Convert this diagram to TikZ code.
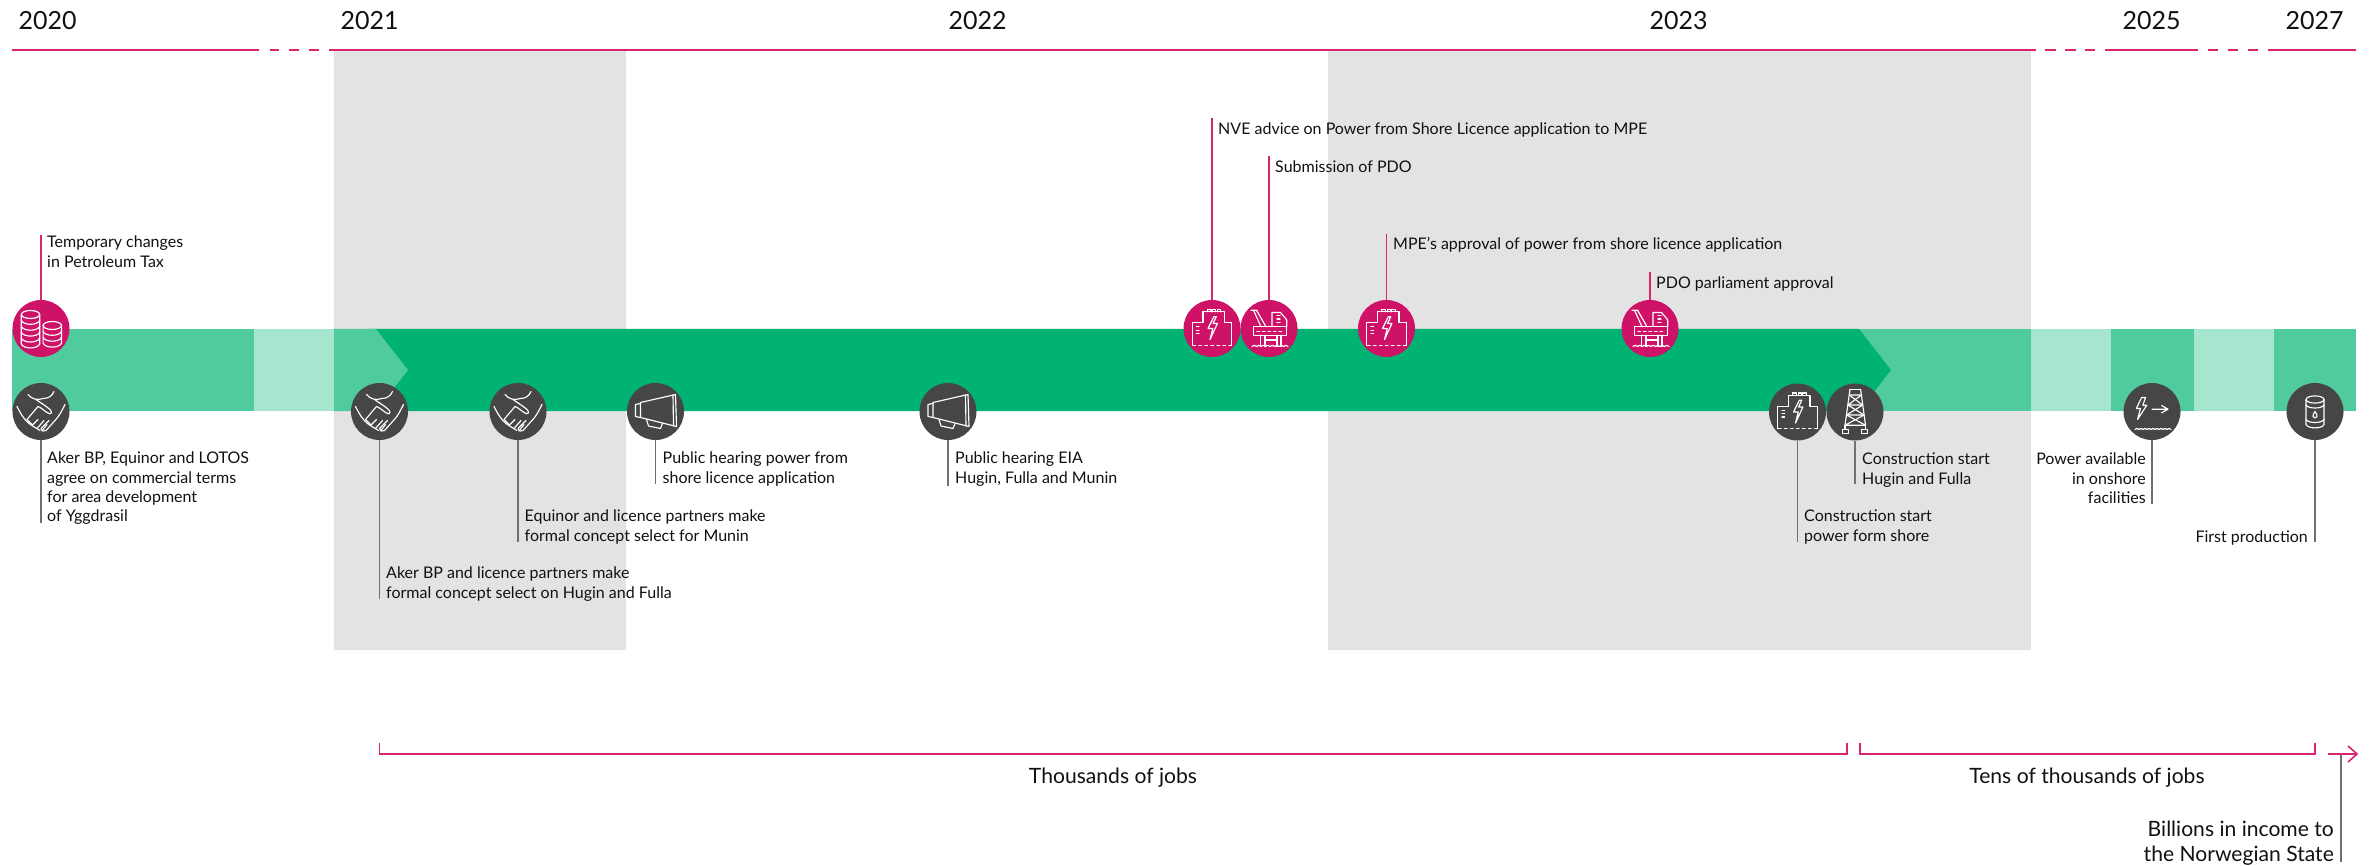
\documentclass[tikz,border=0pt]{standalone}
\usepackage{fontspec}
\setmainfont{Lato}
\definecolor{gdark}{HTML}{00B373}
\definecolor{gmid}{HTML}{50CB9E}
\definecolor{glight}{HTML}{A6E5CE}
\definecolor{bandgrey}{HTML}{E3E3E3}
\definecolor{mag}{HTML}{CE1268}
\definecolor{magline}{HTML}{D9256F}
\definecolor{dcirc}{HTML}{464646}
\definecolor{gline}{HTML}{707070}
\definecolor{ink}{HTML}{111111}
\tikzset{
  x=1pt,y=-1pt,
  magball/.style={circle,fill=mag,minimum size=57pt,inner sep=0pt,draw=none},
  darkball/.style={circle,fill=dcirc,minimum size=57pt,inner sep=0pt,draw=none},
  magleader/.style={draw=magline,line width=1.4pt},
  grayleader/.style={draw=gline,line width=1.4pt},
  magrule/.style={draw=magline,line width=2pt},
  icon/.style={draw=white,line width=1.15pt,line join=round,line cap=round,fill=none},
  evtext/.style={inner sep=0pt,anchor=north west,align=left,yshift=7pt,text=ink,
    font=\fontsize{16}{19.2}\selectfont,execute at begin node=\strut},
  evtextr/.style={evtext,anchor=north east,align=right},
  yeartext/.style={inner sep=0pt,anchor=base west,text=ink,font=\fontsize{25}{30}\selectfont},
  bigtext/.style={inner sep=0pt,text=ink,font=\fontsize{21.1}{26}\selectfont},
  bigtextr/.style={inner sep=0pt,text=ink,anchor=north east,align=right,yshift=8pt,
    font=\fontsize{21.1}{25}\selectfont,execute at begin node=\strut},
  coins/.pic={
    \foreach \cx/\top/\n in {-10.5/-14/5,11.3/-3/3}{
      \draw[icon] (\cx,\top) ellipse [x radius=9.2,y radius=4];
      \foreach \k in {1,...,\n}{
        \draw[icon] (\cx-9.2,\top+5.9*\k-5.9) -- (\cx-9.2,\top+5.9*\k)
          .. controls (\cx-7,\top+5.9*\k+5.2) and (\cx+7,\top+5.9*\k+5.2) .. (\cx+9.2,\top+5.9*\k)
          -- (\cx+9.2,\top+5.9*\k-5.9);
      }
    }
  },
  hands/.pic={
    \draw[icon] (-13,-17) .. controls (-9,-12) and (-3,-11) .. (2,-13)
      .. controls (7,-13) and (11,-15) .. (13,-20);
    \draw[icon] (-5,-12) .. controls (-1,-9) and (3,-7) .. (9,-2)
      .. controls (12,1) and (10,4) .. (6,1) .. controls (3,-1) and (0,-4) .. (-3,-5)
      -- (-14,8);
    \draw[icon] (-24,-5) .. controls (-20,3) and (-16,9) .. (-12,12)
      .. controls (-8,15) and (-4,17) .. (-1,19);
    \draw[icon] (24,-7) .. controls (21,-1) and (18,5) .. (14,9) -- (5,19) .. controls (3,20) and (1,20) .. (0,17) -- (8,9);
    \draw[icon] (-9,14) -- (-3,8) (-4,17) -- (3,9) (1,19.5) -- (6,13);
    \draw[icon] (-14,8) -- (-9,13);
  },
  megaphone/.pic={
    \draw[icon] (-15,-9) -- (20,-17) -- (21,15) -- (-15,6) -- cycle;
    \draw[icon] (17.5,-16.5) -- (18,14.5);
    \draw[icon] (-15,-8) -- (-20,-7) -- (-20,5) -- (-15,6);
    \draw[icon] (-9,8) -- (-7,14.5) -- (5,17) -- (7,12);
  },
  plantic/.pic={
    \draw[icon] (-19.6,16.7) -- (-19.6,-5.7) -- (-9,-5.7) -- (-9,-16.7) -- (12.5,-16.7) -- (12.5,-5.7) -- (19.6,-5.7) -- (19.6,16.7);
    \draw[icon] (-4.6,-16.7) -- (-4.6,-19) -- (-1,-19) -- (-1,-16.7)
      (0.9,-16.7) -- (0.9,-19) -- (3.6,-19) -- (3.6,-16.7)
      (5.4,-16.7) -- (5.4,-19) -- (8.7,-19) -- (8.7,-16.7);
    \draw[icon] (1.8,-11.7) -- (-4,0) -- (0.7,0) -- (-2,11) -- (5.4,-5) -- (1,-5) -- (4.3,-11.7) -- cycle;
    \draw[icon] (-15.5,-1.7) -- (-13,-1.7) (-15.5,1.7) -- (-13,1.7) (-15.5,5) -- (-13,5);
    \foreach \a in {-19,-13,...,17}{\draw[icon] (\a,16.7) -- (\a+2.6,16.7);}
  },
  platform/.pic={
    \draw[icon] (-18,-18.3) -- (-12,-18.3) (-15.5,-18.3) -- (-8,-1.7) (-12.5,-18.3) -- (-3,-1.7);
    \draw[icon] (-15.4,-1.7) rectangle (17.8,6.7);
    \draw[icon] (3,-1.7) -- (3,-16) -- (11.5,-16) -- (17.8,-8.5) -- (17.8,-1.7);
    \foreach \a in {-12,-6.5,-1,4.5,10}{\draw[icon] (\a,2.7) -- (\a+2.6,2.7);}
    \foreach \v in {-13,-9.5,-6}{\draw[icon] (8,\v) -- (11,\v);}
    \draw[icon] (-8.3,6.7) -- (-8.3,18) (-4,6.7) -- (-4,18) (8,6.7) -- (8,18) (12,6.7) -- (12,18);
    \draw[icon] (-4,11.5) -- (8,11.5);
    \foreach \a in {-17,-12.5,...,15}{\draw[icon] (\a,18) .. controls (\a+1.5,16.4) and (\a+3,16.4) .. (\a+4.5,18);}
  },
  pylonic/.pic={
    \draw[icon] (-5,-22.7) -- (5.6,-22.7);
    \draw[icon] (-5,-22.7) -- (-10,13.3) (5.6,-22.7) -- (10.5,13.3);
    \draw[icon] (-5.8,-17) -- (6.4,-17) -- (-7.1,-7) -- (7.7,-7) -- (-8.4,3) -- (9,3) -- (-10,13.3) -- (10.5,13.3);
    \draw[icon] (-5.8,-17) -- (7.7,-7) (-7.1,-7) -- (9,3) (-8.4,3) -- (10.5,13.3);
    \draw[icon] (-12.6,17.3) rectangle (-6.4,21.3);
    \draw[icon] (6.8,17.3) rectangle (12.8,21.3);
    \draw[icon] (-10,13.3) -- (-10,17.3) (10.5,13.3) -- (10.5,17.3);
  },
  powerout/.pic={
    \draw[icon] (-10.4,-14) -- (-15.7,-3) -- (-11.6,-3) -- (-14.5,8) -- (-5.2,-6.3) -- (-9.2,-6.3) -- (-6.4,-14) -- cycle;
    \draw[icon] (0,-2.3) -- (16,-2.3) (9.6,-6) -- (16,-2.3) -- (9.6,1.3);
    \foreach \a in {-17,-13,...,15}{\draw[icon] (\a,18) .. controls (\a+1.3,16.6) and (\a+2.7,16.6) .. (\a+4,18);}
  },
  barrelic/.pic={
    \draw[icon] (0,-12) ellipse [x radius=9,y radius=3.6];
    \draw[icon] (-9,-12) -- (-9,13) .. controls (-7,17.5) and (7,17.5) .. (9,13) -- (9,-12);
    \draw[icon] (-9,-6.5) .. controls (-7,-2.5) and (7,-2.5) .. (9,-6.5);
    \draw[icon] (-9,8) .. controls (-7,12) and (7,12) .. (9,8);
    \draw[icon] (0,0) .. controls (-1,2) and (-2.5,3) .. (-2,5) .. controls (-1.5,7) and (1.5,7) .. (2,5) .. controls (2.5,3) and (1,2) .. (0,0) -- cycle;
  },
}
\begin{document}
\begin{tikzpicture}
\useasboundingbox (0,0) rectangle (2369,866);
\fill[white] (0,0) rectangle (2369,866);
% shaded periods
\fill[bandgrey] (334,50) rectangle (626,650);
\fill[bandgrey] (1328,50) rectangle (2031,650);
% band
\fill[gmid] (12,329) rectangle (254,411);
\fill[glight] (254,329) rectangle (334,411);
\fill[gmid] (1850,329) rectangle (2031,411);
\fill[glight] (2031,329) rectangle (2111,411);
\fill[gmid] (2111,329) rectangle (2194,411);
\fill[glight] (2194,329) rectangle (2274,411);
\fill[gmid] (2274,329) rectangle (2356,411);
\fill[gdark] (370,329) -- (1859,329) -- (1891,370) -- (1859,411) -- (370,411) -- cycle;
\fill[gmid] (334,329) -- (376,329) -- (408,370) -- (376,411) -- (334,411) -- cycle;
% top rule
\draw[magrule] (12,50) -- (259,50);
\foreach \a/\b in {270/279,289/299,309/319,2045/2056,2065/2076,2085/2095,2208/2218,2228/2238,2248/2258}{\draw[magrule] (\a,50) -- (\b,50);}
\draw[magrule] (329,50) -- (2036,50);
\draw[magrule] (2105,50) -- (2198,50);
\draw[magrule] (2268,50) -- (2356,50);
% years
\node[yeartext] (y20) at (18.5,30) {2020};
\node[yeartext] (y21) at (340.5,30) {2021};
\node[yeartext] (y22) at (948.5,30) {2022};
\node[yeartext] (y23) at (1649.5,30) {2023};
\node[yeartext] (y25) at (2122.5,30) {2025};
\node[yeartext] (y27) at (2285.5,30) {2027};
% upper events
\node[magball] (c1) at (41,328.5) {};
\node[magball] (c2) at (1212,328.5) {};
\node[magball] (c3) at (1269,328.5) {};
\node[magball] (c4) at (1386.5,328.5) {};
\node[magball] (c5) at (1650,328.5) {};
\pic at (c1) {coins};
\pic at (c2) {plantic};
\pic at (c3) {platform};
\pic at (c4) {plantic};
\pic at (c5) {platform};
\coordinate (e1) at (41,235);
\coordinate (e2) at (1212,118);
\coordinate (e3) at (1269,156);
\coordinate (e4) at (1386.5,234);
\coordinate (e5) at (1650,272);
\foreach \i in {1,...,5}{\draw[magleader] (c\i.north) -- (e\i);}
\node[evtext] (t1) at (47,243) {Temporary changes\\in Petroleum Tax};
\node[evtext] (t2) at (1218,128) {NVE advice on Power from Shore Licence application to MPE};
\node[evtext] (t3) at (1275,166) {Submission of PDO};
\node[evtext] (t4) at (1393,243) {MPE’s approval of power from shore licence application};
\node[evtext] (t5) at (1656,281.5) {PDO parliament approval};
% lower events
\node[darkball] (d1) at (41,411.5) {};
\node[darkball] (d2) at (379.5,411.5) {};
\node[darkball] (d3) at (518,411.5) {};
\node[darkball] (d4) at (655.5,411.5) {};
\node[darkball] (d5) at (948,411.5) {};
\node[darkball] (d6) at (1797.5,412) {};
\node[darkball] (d7) at (1855,412) {};
\node[darkball] (d8) at (2152,411.5) {};
\node[darkball] (d9) at (2315,411.5) {};
\pic at (d1) {hands};
\pic at (d2) {hands};
\pic at (d3) {hands};
\pic at (d4) {megaphone};
\pic at (d5) {megaphone};
\pic at (d6) {plantic};
\pic at (d7) {pylonic};
\pic at (d8) {powerout};
\pic at (d9) {barrelic};
\coordinate (f1) at (41,522.5);
\coordinate (f2) at (379.5,599);
\coordinate (f3) at (518,541.5);
\coordinate (f4) at (655.5,484);
\coordinate (f5) at (948,486);
\coordinate (f6) at (1797.5,542);
\coordinate (f7) at (1855,484);
\coordinate (f8) at (2152,504);
\coordinate (f9) at (2315,542);
\foreach \i in {1,...,9}{\draw[grayleader] (d\i.south) -- (f\i);}
\node[evtext] (u1) at (47,459) {Aker BP, Equinor and LOTOS\\agree on commercial terms\\for area development\\of Yggdrasil};
\node[evtext] (u2) at (386,574) {Aker BP and licence partners make\\formal concept select on Hugin and Fulla};
\node[evtext] (u3) at (524.5,517) {Equinor and licence partners make\\formal concept select for Munin};
\node[evtext] (u4) at (662.5,459) {Public hearing power from\\shore licence application};
\node[evtext] (u5) at (955,459) {Public hearing EIA\\Hugin, Fulla and Munin};
\node[evtext] (u6) at (1804,517) {Construction start\\power form shore};
\node[evtext] (u7) at (1862,460) {Construction start\\Hugin and Fulla};
\node[evtextr] (u8) at (2146,460) {Power available\\in onshore\\facilities};
\node[evtextr] (u9) at (2308,536) {First production};
% brackets
\coordinate (b1) at (379.5,743);
\coordinate (b2) at (379.5,754);
\coordinate (b3) at (1847,754);
\coordinate (b4) at (1847,743);
\draw[magleader,line width=1.6pt] (b1) -- (b2) -- (b3) -- (b4);
\coordinate (k1) at (1860,743);
\coordinate (k2) at (1860,754);
\coordinate (k3) at (2315,754);
\coordinate (k4) at (2315,743);
\draw[magleader,line width=1.6pt] (k1) -- (k2) -- (k3) -- (k4);
\coordinate (a1) at (2328,754);
\coordinate (a2) at (2357,754);
\coordinate (a3) at (2348,746);
\coordinate (a4) at (2348,762);
\draw[magleader,line width=1.6pt] (a1) -- (a2);
\draw[magleader,line width=1.6pt] (a3) -- (a2) -- (a4);
\coordinate (s1) at (2341,755);
\coordinate (s2) at (2341,862);
\draw[grayleader] (s1) -- (s2);
\node[bigtext] (j1) at (1113,778) {Thousands of jobs};
\node[bigtext] (j2) at (2087,778) {Tens of thousands of jobs};
\node[bigtextr] (j3) at (2334,829) {Billions in income to\\the Norwegian State};
\end{tikzpicture}
\end{document}
